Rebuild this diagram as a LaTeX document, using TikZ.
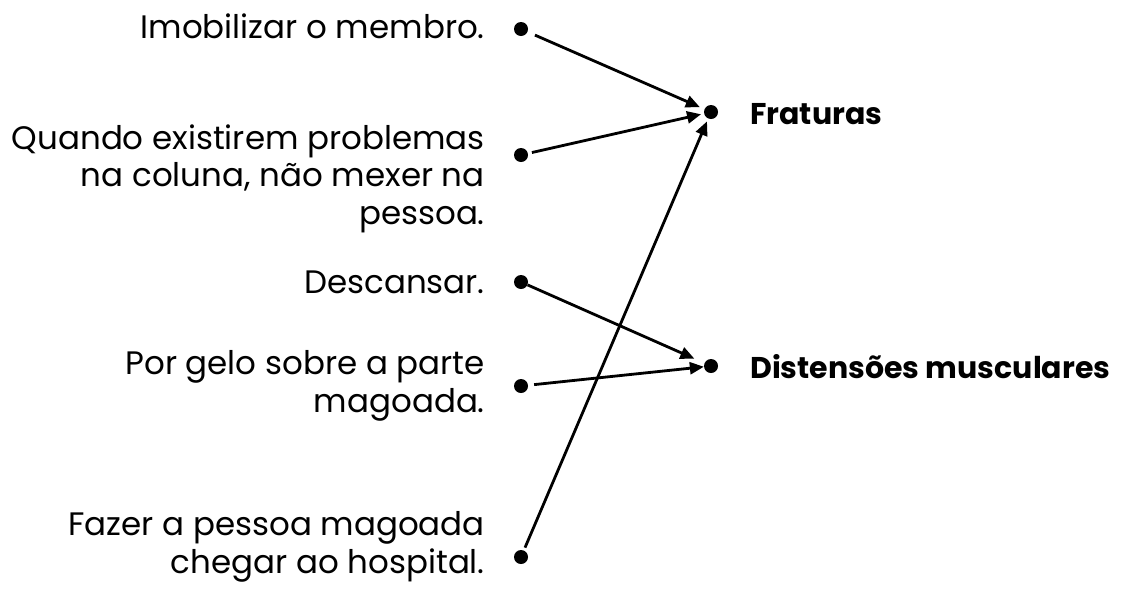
\documentclass[tikz,border=0pt]{standalone}
\usepackage{fontspec}
\setmainfont{Poppins}
\usetikzlibrary{arrows.meta}
\begin{document}
\begin{tikzpicture}[x=1pt,y=-1pt,
  dotnode/.style={circle,fill=black,inner sep=0pt,minimum size=14pt},
  lefttext/.style={anchor=base east,align=right,inner sep=0pt,font=\fontsize{32.5}{37.5}\selectfont},
  righttext/.style={anchor=base west,inner sep=0pt,font=\fontsize{30}{37.5}\selectfont\bfseries},
  arr/.style={line width=2.8pt,-{Triangle[length=14pt,width=12pt]}}]
\useasboundingbox (0,0) rectangle (1128,595);
% left texts (anchor at baseline of last line)
\node[lefttext] (t1) at (485,38) {Imobilizar o membro.};
\node[lefttext] (t2) at (485,224) {Quando existirem problemas\\na coluna, não mexer na\\pessoa.};
\node[lefttext] (t3) at (485,293) {Descansar.};
\node[lefttext] (t4) at (485,412) {Por gelo sobre a parte\\magoada.};
\node[lefttext] (t5) at (485,573) {Fazer a pessoa magoada\\chegar ao hospital.};
% right texts
\node[righttext] (r1) at (750,124) {Fraturas};
\node[righttext] (r2) at (750,378) {Distensões musculares};
% dots
\node[dotnode] (d1) at (521,29) {};
\node[dotnode] (d2) at (521,155) {};
\node[dotnode] (d3) at (521,282) {};
\node[dotnode] (d4) at (521,386) {};
\node[dotnode] (d5) at (521,557) {};
\node[dotnode] (f) at (711,112) {};
\node[dotnode] (m) at (711,366) {};
% connectors
\draw[arr,shorten <=8pt,shorten >=5pt] (d1) -- (f);
\draw[arr,shorten <=4pt,shorten >=3pt] (d2) -- (f);
\draw[arr,shorten <=0pt,shorten >=11pt] (d3) -- (m);
\draw[arr,shorten <=6pt,shorten >=0pt] (d4) -- (m);
\draw[arr,shorten <=3pt,shorten >=3pt] (d5) -- (f);
\end{tikzpicture}
\end{document}
